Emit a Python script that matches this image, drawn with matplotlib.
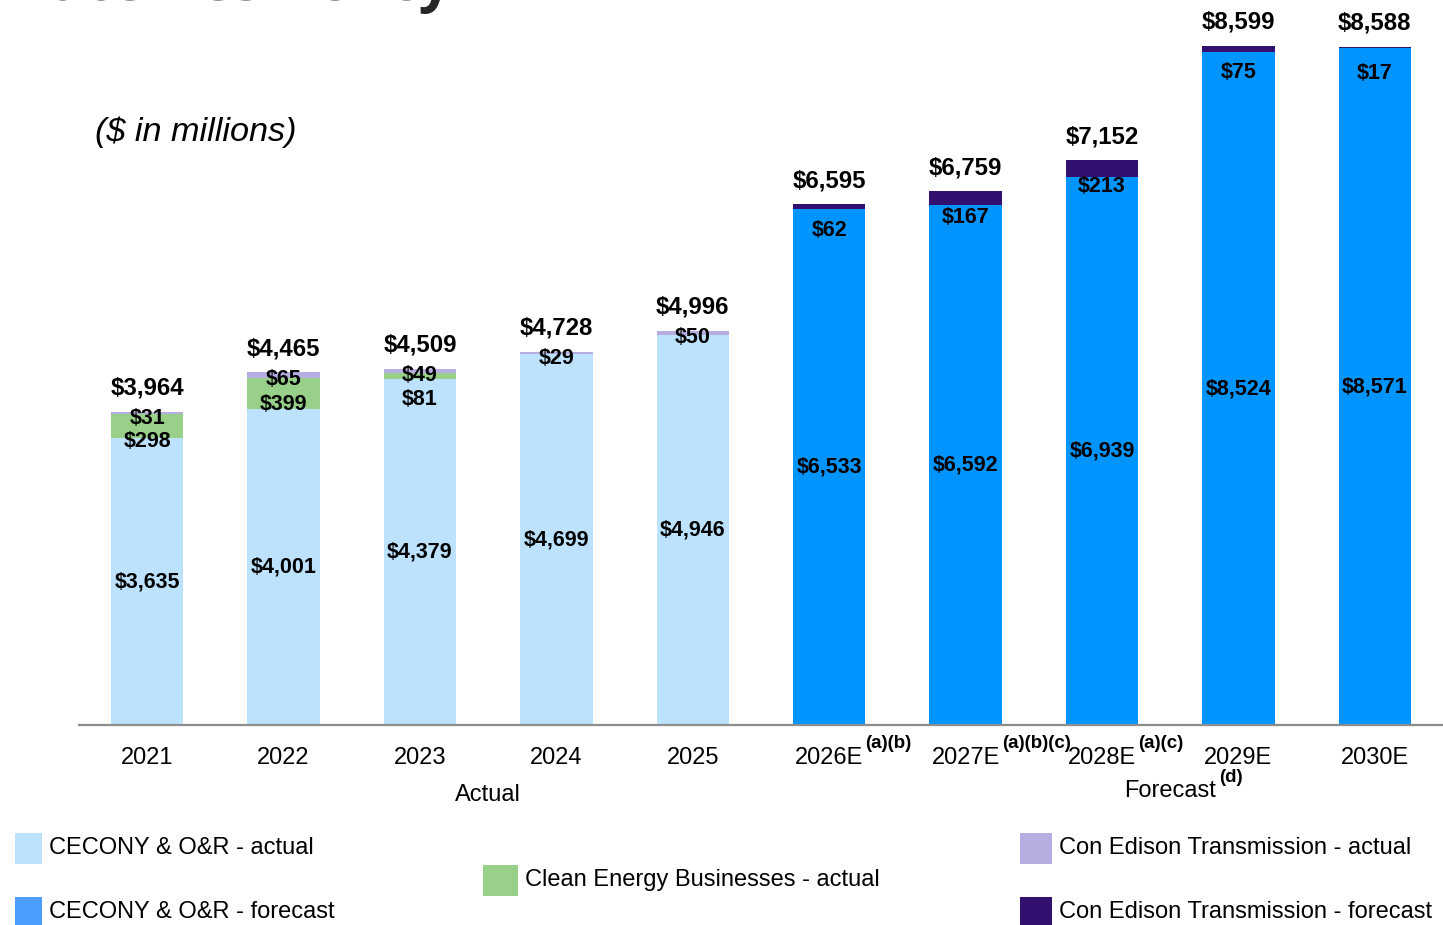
import matplotlib.pyplot as plt
from matplotlib.patches import Rectangle
from matplotlib.transforms import blended_transform_factory
import numpy as np

plt.rcParams['font.family'] = ['Liberation Sans', 'DejaVu Sans']

# --- data ($ in millions) ---
years = ['2021', '2022', '2023', '2024', '2025', '2026E', '2027E', '2028E', '2029E', '2030E']
footnotes = ['', '', '', '', '', '(a)(b)', '(a)(b)(c)', '(a)(c)', '', '']
is_forecast = [False] * 5 + [True] * 5
cecony_or = [3635, 4001, 4379, 4699, 4946, 6533, 6592, 6939, 8524, 8571]
clean_energy = [298, 399, 81, 0, 0, 0, 0, 0, 0, 0]
transmission = [31, 65, 49, 29, 50, 62, 167, 213, 75, 17]
totals = [3964, 4465, 4509, 4728, 4996, 6595, 6759, 7152, 8599, 8588]

# --- colours ---
C_ACT = '#bde2fe'
C_FC = '#0094ff'
C_FC_LEG = '#4c9dfc'
C_CEB = '#98d08a'
C_CET_ACT = '#b8ade0'
C_CET_FC = '#31106f'

W, H = 1443, 925
fig = plt.figure(figsize=(W / 100, H / 100), dpi=100)
ax = fig.add_axes([79 / W, 1 - 725 / H, 1 - 79 / W, 725 / H])

x = np.arange(len(years))
base_col = [C_FC if f else C_ACT for f in is_forecast]
cet_col = [C_CET_FC if f else C_CET_ACT for f in is_forecast]
bw = 0.53

ax.bar(x, cecony_or, width=bw, color=base_col, linewidth=0)
ax.bar(x, clean_energy, width=bw, bottom=cecony_or, color=C_CEB, linewidth=0)
cet_bottom = np.array(cecony_or) + np.array(clean_energy)
ax.bar(x, transmission, width=bw, bottom=cet_bottom, color=cet_col, linewidth=0)

ax.set_xlim(-0.5, 9.5)
ax.set_ylim(0, 9183)
for s in ['top', 'right', 'left']:
    ax.spines[s].set_visible(False)
ax.spines['bottom'].set_color('#8c8c8c')
ax.spines['bottom'].set_linewidth(1.6)
ax.set_yticks([])
ax.set_xticks(x)
ax.set_xticklabels(years, fontsize=17)
ax.tick_params(axis='x', length=0, pad=15.5)

bold = dict(fontweight='bold', ha='center', va='center', color='black')
for i in x:
    top = cet_bottom[i] + transmission[i]
    # total on top
    ax.annotate(f'${totals[i]:,}', (i, top), xytext=(0, 17), textcoords='offset points',
                fontsize=17.3, **bold)
    # main segment in the middle
    ax.text(i, cecony_or[i] / 2, f'${cecony_or[i]:,}', fontsize=15.5, **bold)
    # transmission label
    dy = -19 if is_forecast[i] else -5
    ax.annotate(f'${transmission[i]:,}', (i, top), xytext=(0, dy), textcoords='offset points',
                fontsize=15.5, **bold)
    # clean energy label
    if clean_energy[i]:
        ax.annotate(f'${clean_energy[i]:,}', (i, cet_bottom[i]), xytext=(0, -19.5),
                    textcoords='offset points', fontsize=15.5, **bold)
    if footnotes[i]:
        ax.annotate(footnotes[i], (i, 0), xytext=(26, -13), textcoords='offset points',
                    fontsize=13.5, fontweight='bold', ha='left', va='center')

trans = blended_transform_factory(ax.transData, fig.transFigure)
fig.text(2.5, 1 - 795 / H, 'Actual', transform=trans, fontsize=17, ha='center', va='center')
fig.text(7.5, 1 - 791 / H, 'Forecast', transform=trans, fontsize=17, ha='center', va='center')
ax.annotate('(d)', (7.5, 0), xytext=(35, -38), textcoords='offset points',
            fontsize=13.5, fontweight='bold', ha='left', va='center')

fig.text(95 / W, 1 - 132 / H, '($ in millions)', fontsize=24.7, style='italic', ha='left', va='center')

# page title, mostly cropped off the top
fig.text(452 / W, 1 + 0.5 / H, 'Climate Resiliency', fontsize=42, fontweight='bold',
         family=['Open Sans', 'DejaVu Sans'], color='#262626', ha='right', va='baseline')

# legend: (left, top, swatch width, colour, label)
legend_items = [
    (15, 833, 27, C_ACT, 'CECONY & O&R - actual'),
    (15, 897, 27, C_FC_LEG, 'CECONY & O&R - forecast'),
    (483, 865, 35, C_CEB, 'Clean Energy Businesses - actual'),
    (1020, 833, 32, C_CET_ACT, 'Con Edison Transmission - actual'),
    (1020, 897, 32, C_CET_FC, 'Con Edison Transmission - forecast'),
]
for lx, ly, sw, col, lab in legend_items:
    fig.patches.append(Rectangle((lx / W, 1 - (ly + 31) / H), sw / W, 31 / H,
                                 transform=fig.transFigure, color=col, lw=0))
    fig.text((lx + sw + 7) / W, 1 - (ly + 15) / H, lab, fontsize=17, ha='left', va='center')

fig.savefig('out.png', dpi=100)
